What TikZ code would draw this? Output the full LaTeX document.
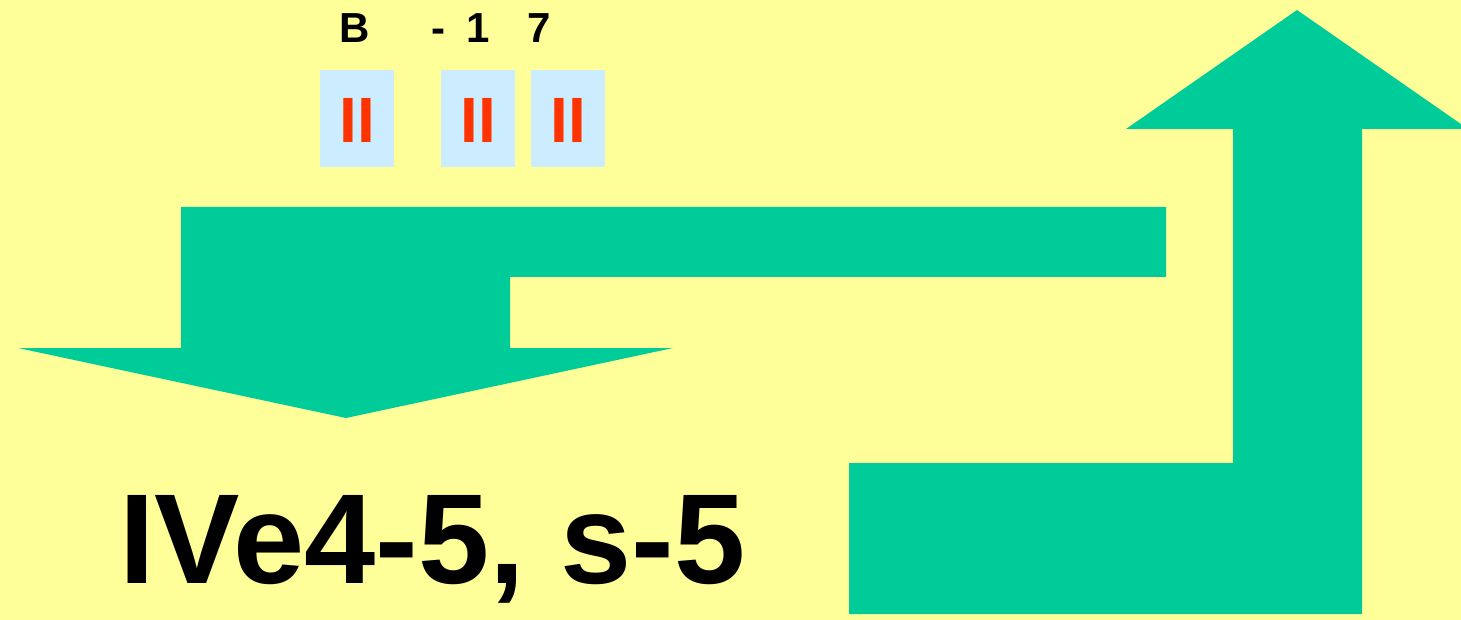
\documentclass[tikz,border=0pt]{standalone}
\usepackage{fontspec}
\setmainfont{Liberation Sans}
\definecolor{bg}{HTML}{FFFF99}
\definecolor{arrowgreen}{HTML}{00CC99}
\definecolor{boxblue}{HTML}{CCECFF}
\definecolor{barred}{HTML}{FF3300}
\begin{document}
\begin{tikzpicture}[x=1pt,y=-1pt,
  greenshape/.style={fill=arrowgreen,draw=none},
  pausebox/.style={fill=boxblue,draw=none},
  pausemark/.style={text=barred,font=\fontsize{64}{64}\selectfont\bfseries,inner sep=0pt,anchor=base},
  toplabel/.style={font=\fontsize{42}{42}\selectfont\bfseries,inner sep=0pt,anchor=base},
  bigtext/.style={font=\fontsize{128}{128}\selectfont\bfseries,inner sep=0pt,anchor=base west}]
\useasboundingbox (0,0) rectangle (1461,620);
\fill[bg] (0,0) rectangle (1461,620);
\begin{scope}
\clip (0,0) rectangle (1461,620);
% left down arrow
\path[greenshape] (181,207) -- (1166,207) -- (1166,277) -- (510,277) -- (510,348)
  -- (673,348) -- (346,418) -- (18,348) -- (181,348) -- cycle;
% right up arrow
\path[greenshape] (849,463) -- (1233,463) -- (1233,129) -- (1126,129) -- (1297,10)
  -- (1468,129) -- (1362,129) -- (1362,614) -- (849,614) -- cycle;
\end{scope}
% boxes
\path[pausebox] (320,70) rectangle (394,167);
\path[pausebox] (441,70) rectangle (515,167);
\path[pausebox] (531,70) rectangle (605,167);
\node[pausemark] (p1) at (357,143) {II};
\node[pausemark] (p2) at (478,143) {II};
\node[pausemark] (p3) at (568,143) {II};
% top labels
\node[toplabel] (lB) at (355,43) {B};
\node[toplabel] (lminus) at (438,43) {-};
\node[toplabel] (lone) at (478,43) {1};
\node[toplabel] (lseven) at (539,43) {7};
% big text
\node[bigtext] (code) at (119,583) {IVe4-5, s-5};
\end{tikzpicture}
\end{document}
